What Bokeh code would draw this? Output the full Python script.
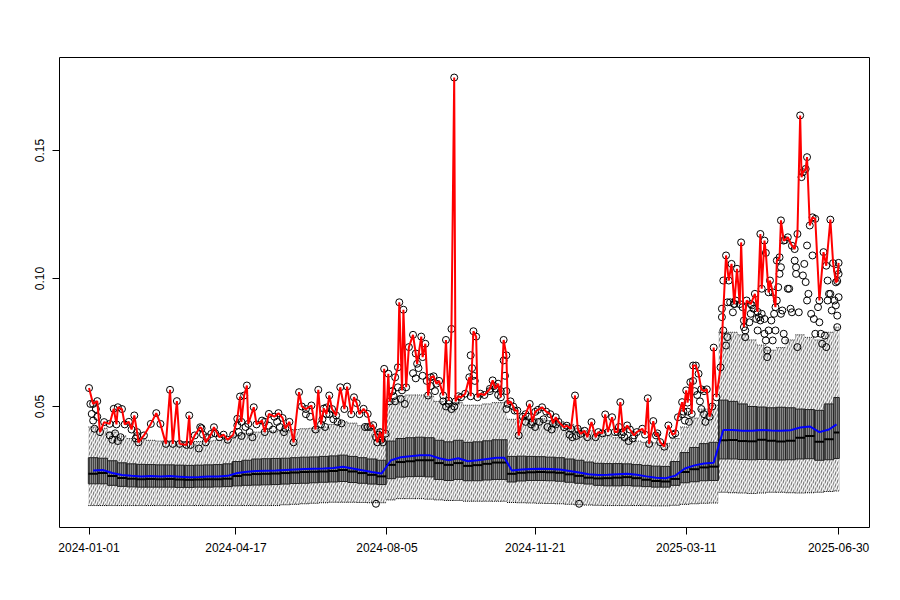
from datetime import date
from bokeh.plotting import figure
from bokeh.models import FixedTicker, ColumnDataSource, Range1d
from bokeh.embed import file_html
from bokeh.resources import INLINE

START = date(2024, 1, 1)
tick_labels = ["2024-01-01", "2024-04-17", "2024-08-05", "2024-11-21", "2025-03-11", "2025-06-30"]
last_day = 546

# segment starts (day offsets from 2024-01-01); each segment summarises ~a week of daily boxes
seg_start = (list(range(0, 211, 7)) + list(range(217, 302, 7))
             + list(range(305, 453, 7)) + list(range(459, 544, 7)))

whisk_lo = [0.0113, 0.0113, 0.0113, 0.0113, 0.0113, 0.0113, 0.0113, 0.0113, 0.0113, 0.0113,
            0.0113, 0.0113, 0.0113, 0.0113, 0.0113, 0.0113, 0.0113, 0.0113, 0.0113, 0.0113,
            0.0116, 0.0118, 0.0120, 0.0122, 0.0124, 0.0126, 0.0126, 0.0126, 0.0125, 0.0124, 0.0124,
            0.0135, 0.0140, 0.0140, 0.0140, 0.0138, 0.0135, 0.0133, 0.0133, 0.0130, 0.0130, 0.0130, 0.0130, 0.0130,
            0.0125, 0.0124, 0.0123, 0.0122, 0.0121, 0.0120, 0.0118, 0.0116, 0.0115, 0.0114, 0.0113,
            0.0113, 0.0113, 0.0113, 0.0113, 0.0112, 0.0112, 0.0114, 0.0118, 0.0120, 0.0122, 0.0123,
            0.0165, 0.0163, 0.0162, 0.0160, 0.0162, 0.0165, 0.0165, 0.0163, 0.0162, 0.0163, 0.0165, 0.0168, 0.0170]
q1 = [0.0198, 0.0198, 0.0192, 0.0188, 0.0186, 0.0185, 0.0185, 0.0185, 0.0185, 0.0184, 0.0184,
      0.0185, 0.0185, 0.0186, 0.0187, 0.0190, 0.0192, 0.0193, 0.0194, 0.0195, 0.0197, 0.0199,
      0.0200, 0.0202, 0.0204, 0.0205, 0.0207, 0.0203, 0.0200, 0.0197, 0.0195,
      0.0218, 0.0224, 0.0226, 0.0227, 0.0225, 0.0215, 0.0211, 0.0215, 0.0210, 0.0210, 0.0213, 0.0215, 0.0215,
      0.0205, 0.0209, 0.0211, 0.0211, 0.0210, 0.0208, 0.0204, 0.0200, 0.0197, 0.0192, 0.0190,
      0.0190, 0.0191, 0.0189, 0.0187, 0.0185, 0.0185, 0.0192, 0.0202, 0.0206, 0.0210, 0.0211,
      0.0295, 0.0295, 0.0293, 0.0292, 0.0293, 0.0292, 0.0291, 0.0292, 0.0295, 0.0296, 0.0290, 0.0292, 0.0297]
median = [0.0237, 0.0240, 0.0228, 0.0221, 0.0218, 0.0216, 0.0217, 0.0216, 0.0217, 0.0215, 0.0214,
          0.0215, 0.0216, 0.0216, 0.0218, 0.0228, 0.0233, 0.0236, 0.0237, 0.0238, 0.0240, 0.0242,
          0.0244, 0.0245, 0.0246, 0.0248, 0.0252, 0.0246, 0.0240, 0.0233, 0.0227,
          0.0272, 0.0283, 0.0286, 0.0290, 0.0290, 0.0279, 0.0272, 0.0279, 0.0268, 0.0271, 0.0276, 0.0281, 0.0281,
          0.0237, 0.0241, 0.0243, 0.0244, 0.0243, 0.0241, 0.0235, 0.0229, 0.0222, 0.0219, 0.0220,
          0.0222, 0.0224, 0.0220, 0.0214, 0.0209, 0.0207, 0.0217, 0.0244, 0.0255, 0.0262, 0.0265,
          0.0368, 0.0369, 0.0365, 0.0364, 0.0370, 0.0366, 0.0363, 0.0366, 0.0378, 0.0385, 0.0362, 0.0372, 0.0398]
q3 = [0.0300, 0.0298, 0.0288, 0.0280, 0.0276, 0.0274, 0.0273, 0.0272, 0.0272, 0.0271, 0.0270,
      0.0271, 0.0272, 0.0273, 0.0276, 0.0285, 0.0290, 0.0295, 0.0296, 0.0297, 0.0298, 0.0300,
      0.0302, 0.0303, 0.0305, 0.0307, 0.0310, 0.0305, 0.0300, 0.0295, 0.0290,
      0.0365, 0.0375, 0.0378, 0.0380, 0.0378, 0.0368, 0.0362, 0.0368, 0.0360, 0.0362, 0.0366, 0.0370, 0.0370,
      0.0305, 0.0306, 0.0305, 0.0304, 0.0302, 0.0300, 0.0295, 0.0290, 0.0283, 0.0278, 0.0277,
      0.0277, 0.0276, 0.0273, 0.0270, 0.0267, 0.0266, 0.0285, 0.0320, 0.0340, 0.0355, 0.0360,
      0.0525, 0.0520, 0.0510, 0.0500, 0.0498, 0.0495, 0.0497, 0.0495, 0.0490, 0.0488, 0.0485, 0.0510, 0.0535]
whisk_hi = [0.0420, 0.0415, 0.0400, 0.0385, 0.0375, 0.0370, 0.0368, 0.0365, 0.0365, 0.0363, 0.0362,
            0.0363, 0.0365, 0.0368, 0.0372, 0.0385, 0.0395, 0.0400, 0.0402, 0.0404, 0.0406, 0.0410,
            0.0413, 0.0415, 0.0420, 0.0430, 0.0440, 0.0435, 0.0425, 0.0415, 0.0410,
            0.0520, 0.0540, 0.0545, 0.0545, 0.0540, 0.0520, 0.0510, 0.0515, 0.0505, 0.0505, 0.0510, 0.0515, 0.0515,
            0.0450, 0.0455, 0.0455, 0.0452, 0.0445, 0.0440, 0.0430, 0.0415, 0.0405, 0.0395, 0.0385,
            0.0378, 0.0372, 0.0365, 0.0360, 0.0358, 0.0356, 0.0375, 0.0420, 0.0455, 0.0490, 0.0505,
            0.0790, 0.0790, 0.0780, 0.0760, 0.0740, 0.0720, 0.0730, 0.0760, 0.0780, 0.0770, 0.0760, 0.0790, 0.0810]
mean = [0.0250, 0.0252, 0.0240, 0.0232, 0.0229, 0.0227, 0.0228, 0.0227, 0.0228, 0.0226, 0.0224,
        0.0225, 0.0227, 0.0227, 0.0229, 0.0240, 0.0245, 0.0248, 0.0249, 0.0250, 0.0252, 0.0254,
        0.0256, 0.0257, 0.0258, 0.0260, 0.0265, 0.0258, 0.0251, 0.0244, 0.0238,
        0.0290, 0.0302, 0.0306, 0.0310, 0.0310, 0.0298, 0.0290, 0.0298, 0.0286, 0.0290, 0.0295, 0.0300, 0.0300,
        0.0250, 0.0254, 0.0256, 0.0257, 0.0256, 0.0254, 0.0248, 0.0242, 0.0235, 0.0232, 0.0233,
        0.0235, 0.0237, 0.0233, 0.0227, 0.0222, 0.0220, 0.0230, 0.0258, 0.0270, 0.0277, 0.0280,
        0.0408, 0.0408, 0.0405, 0.0405, 0.0408, 0.0406, 0.0405, 0.0407, 0.0418, 0.0422, 0.0400, 0.0410, 0.0430]

# daily maximum (red line), read at its turning points
max_day = [0, 3, 6, 8, 11, 15, 18, 20, 21, 24, 26, 29, 31, 33, 35, 36, 40, 45, 49, 52, 56, 59, 61, 64, 66,
           71, 73, 74, 77, 81, 82, 85, 89, 91, 95, 98, 101, 105, 108, 110, 111, 113, 115, 116, 120, 122,
           126, 128, 131, 135, 138, 141, 143, 146, 149, 153, 155, 158, 162, 165, 167, 169, 171, 173, 175,
           177, 180, 183, 186, 188, 191, 193, 195, 197, 200, 203, 205, 207, 210, 212, 214, 215, 216, 218,
           219, 221, 223, 225, 226, 228, 229, 231, 233, 236, 238, 239, 242, 243, 245, 247, 249, 251, 253,
           255, 258, 260, 262, 264, 266, 267, 269, 271, 274, 277, 278, 280, 282, 283, 285, 288, 292, 294,
           296, 298, 300, 302, 304, 305, 307, 309, 310, 312, 313, 316, 318, 321, 323, 325, 327, 330, 333,
           336, 338, 340, 342, 346, 348, 351, 354, 356, 358, 361, 363, 366, 369, 371, 374, 376, 378, 381,
           383, 385, 387, 389, 392, 394, 397, 399, 403, 405, 407, 408, 411, 413, 414, 416, 419, 422, 425,
           427, 429, 432, 433, 435, 436, 438, 439, 440, 442, 444, 446, 448, 450, 452, 454, 455, 457, 460,
           464, 466, 468, 470, 472, 474, 475, 477, 479, 482, 485, 487, 489, 490, 492, 493, 495, 496, 498,
           500, 501, 503, 504, 506, 507, 509, 512, 514, 516, 518, 519, 520, 522, 523, 525, 527, 529, 532,
           535, 537, 540, 542, 544, 545, 546]
max_val = [0.0572, 0.0510, 0.0521, 0.0400, 0.0439, 0.0432, 0.0491, 0.0430, 0.0497, 0.0490, 0.0430,
           0.0440, 0.0410, 0.0465, 0.0400, 0.0360, 0.0387, 0.0432, 0.0474, 0.0432, 0.0354, 0.0565,
           0.0354, 0.0521, 0.0354, 0.0350, 0.0465, 0.0350, 0.0387, 0.0419, 0.0415, 0.0360, 0.0393,
           0.0419, 0.0380, 0.0390, 0.0370, 0.0390, 0.0452, 0.0539, 0.0440, 0.0543, 0.0582, 0.0432,
           0.0497, 0.0430, 0.0445, 0.0400, 0.0471, 0.0460, 0.0474, 0.0455, 0.0414, 0.0440, 0.0360,
           0.0556, 0.0500, 0.0490, 0.0504, 0.0410, 0.0565, 0.0430, 0.0492, 0.0470, 0.0543, 0.0490,
           0.0465, 0.0575, 0.0490, 0.0578, 0.0470, 0.0536, 0.0513, 0.0470, 0.0491, 0.0471, 0.0420,
           0.0427, 0.0360, 0.0400, 0.0360, 0.0647, 0.0394, 0.0628, 0.0520, 0.0560, 0.0614, 0.0653,
           0.0907, 0.0563, 0.0878, 0.0575, 0.0732, 0.0780, 0.0707, 0.0667, 0.0773, 0.0693, 0.0745,
           0.0543, 0.0614, 0.0618, 0.0589, 0.0600, 0.0543, 0.0760, 0.0523, 0.0803, 0.1785, 0.0520,
           0.0540, 0.0536, 0.0550, 0.0614, 0.0540, 0.0794, 0.0773, 0.0536, 0.0550, 0.0545, 0.0569,
           0.0602, 0.0570, 0.0589, 0.0536, 0.0760, 0.0700, 0.0510, 0.0520, 0.0500, 0.0484, 0.0484,
           0.0387, 0.0460, 0.0470, 0.0510, 0.0439, 0.0479, 0.0487, 0.0497, 0.0480, 0.0470, 0.0434,
           0.0458, 0.0440, 0.0419, 0.0425, 0.0413, 0.0543, 0.0413, 0.0393, 0.0405, 0.0380, 0.0439,
           0.0380, 0.0400, 0.0395, 0.0469, 0.0400, 0.0458, 0.0400, 0.0400, 0.0517, 0.0400, 0.0426,
           0.0410, 0.0387, 0.0400, 0.0413, 0.0390, 0.0532, 0.0354, 0.0443, 0.0387, 0.0395, 0.0361,
           0.0343, 0.0426, 0.0390, 0.0395, 0.0458, 0.0517, 0.0480, 0.0563, 0.0515, 0.0595, 0.0471,
           0.0660, 0.0660, 0.0628, 0.0567, 0.0560, 0.0567, 0.0460, 0.0500, 0.0730, 0.0536, 0.0653,
           0.1090, 0.0992, 0.1057, 0.0900, 0.1038, 0.0900, 0.1141, 0.0810, 0.0914, 0.0900, 0.0940,
           0.0870, 0.1174, 0.0960, 0.1148, 0.1100, 0.0946, 0.0992, 0.0946, 0.0888, 0.1070, 0.1083,
           0.1227, 0.1148, 0.1150, 0.1161, 0.1128, 0.1115, 0.1174, 0.1637, 0.1396, 0.1415, 0.1428,
           0.1474, 0.1207, 0.1239, 0.1233, 0.0914, 0.1103, 0.1050, 0.1230, 0.1060, 0.0985, 0.0990, 0.1061]

# other outliers (black circles)
out_day = [1, 2, 3, 4, 5, 6, 15, 17, 19, 21, 23, 34, 35, 80, 83, 86, 92, 108, 109, 111, 114, 117, 119,
           128, 131, 134, 137, 139, 142, 158, 161, 170, 172, 173, 175, 178, 181, 184, 201, 203, 209, 209,
           211, 213, 221, 222, 223, 225, 227, 230, 236, 238, 240, 243, 246, 249, 252, 258, 260, 262, 264,
           266, 278, 279, 280, 281, 292, 295, 298, 300, 302, 303, 304, 304, 318, 320, 322, 325, 328, 331,
           334, 337, 340, 350, 352, 355, 357, 386, 388, 390, 393, 396, 432, 434, 436, 437, 440, 441, 443,
           445, 446, 448, 449,
           461, 461, 462, 464, 465, 462, 465, 467, 469, 470, 471, 476, 477, 478, 478, 481, 482, 483, 484,
           486, 487, 488, 489, 490, 492, 492, 493, 494, 494, 495, 497, 498, 499, 500, 501, 502, 503, 504,
           504, 505, 506, 507, 509, 510, 511, 512, 514, 515, 515, 516, 517, 520, 521, 522, 523, 523, 524,
           526, 527, 528, 529, 531, 532, 533, 534, 536, 537, 538, 538, 539, 540, 541, 543, 544, 545, 545,
           546, 545, 546]
out_val = [0.0510, 0.0471, 0.0445, 0.0413, 0.0490, 0.0460, 0.0387, 0.0370, 0.0395, 0.0365, 0.0380,
           0.0375, 0.0385, 0.0336, 0.0390, 0.0380, 0.0395, 0.0426, 0.0400, 0.0385, 0.0420, 0.0400,
           0.0380, 0.0440, 0.0425, 0.0410, 0.0440, 0.0420, 0.0400, 0.0470, 0.0460, 0.0450, 0.0420,
           0.0496, 0.0470, 0.0450, 0.0440, 0.0434, 0.0420, 0.0420, 0.0120, 0.0380, 0.0390, 0.0370,
           0.0560, 0.0540, 0.0520, 0.0575, 0.0530, 0.0510, 0.0630, 0.0610, 0.0650, 0.0620, 0.0600,
           0.0580, 0.0560, 0.0520, 0.0500, 0.0510, 0.0490, 0.0500, 0.0700, 0.0650, 0.0620, 0.0600,
           0.0560, 0.0580, 0.0545, 0.0560, 0.0680, 0.0620, 0.0560, 0.0490, 0.0440, 0.0460, 0.0430,
           0.0420, 0.0440, 0.0450, 0.0420, 0.0410, 0.0430, 0.0390, 0.0380, 0.0385, 0.0120, 0.0420,
           0.0390, 0.0380, 0.0365, 0.0375, 0.0470, 0.0445, 0.0480, 0.0440, 0.0600, 0.0560, 0.0545,
           0.0520, 0.0490, 0.0470, 0.0440,
           0.0882, 0.0849, 0.0797, 0.0738, 0.0771, 0.0992, 0.0907, 0.0907, 0.0868, 0.0901, 0.0914,
           0.0888, 0.0836, 0.0797, 0.0771, 0.0829, 0.0862, 0.0895, 0.0882, 0.0842, 0.0797, 0.0849,
           0.0836, 0.0862, 0.0842, 0.0784, 0.0758, 0.0719, 0.0693, 0.0797, 0.0836, 0.0758, 0.0862,
           0.0797, 0.0914, 0.0966, 0.1018, 0.1044, 0.0862, 0.0875, 0.0784, 0.0758, 0.0960, 0.0960,
           0.0882, 0.0868, 0.1070, 0.1018, 0.1044, 0.0732, 0.0868, 0.1012, 0.1057, 0.0986, 0.1129,
           0.0914, 0.0940, 0.0862, 0.1090, 0.0842, 0.0784, 0.0888, 0.0829, 0.0784, 0.0745, 0.0777,
           0.0732, 0.0992, 0.0914, 0.0940, 0.0940, 0.0875, 0.0914, 0.0895, 0.0855, 0.0810, 0.0927,
           0.1031, 0.1018]

n = len(seg_start)
assert all(len(a) == n for a in (whisk_lo, q1, median, q3, whisk_hi, mean))
assert len(max_day) == len(max_val) and len(out_day) == len(out_val)

left = [s - 0.5 for s in seg_start]
right = [s - 0.5 for s in seg_start[1:]] + [last_day + 0.5]
center = [(a + b) / 2 for a, b in zip(left, right)]

src = ColumnDataSource(dict(left=left, right=right, center=center, lo=whisk_lo, q1=q1,
                            med=median, q3=q3, hi=whisk_hi, mean=mean))

tick_days = [(date.fromisoformat(t) - START).days for t in tick_labels]

p = figure(width=900, height=600, output_backend="svg", toolbar_location=None,
           x_range=Range1d(-21.5, 568.5), y_range=Range1d(0.00273, 0.18633),
           min_border_left=59, min_border_right=31, min_border_top=57, min_border_bottom=73)
p.background_fill_color = "white"
p.border_fill_color = "white"
p.outline_line_color = "black"
p.outline_line_width = 1
p.grid.visible = False

# whisker regions: grey vertical lines broken by diagonal gaps (dashed whiskers)
for lo_col, hi_col in (("lo", "q1"), ("q3", "hi")):
    p.quad(left="left", right="right", bottom=lo_col, top=hi_col, source=src,
           fill_color="#c2c2c2", fill_alpha=1, line_alpha=0, hatch_pattern="vertical_line",
           hatch_color="#3a3a3a", hatch_scale=2, hatch_weight=1)
    p.quad(left="left", right="right", bottom=lo_col, top=hi_col, source=src, fill_alpha=0,
           line_alpha=0, hatch_pattern="right_diagonal_line", hatch_color="white", hatch_scale=6,
           hatch_weight=1.2)
# staples
p.segment(x0="left", x1="right", y0="lo", y1="lo", source=src, line_color="black",
          line_width=1, line_dash="1 1")
p.segment(x0="left", x1="right", y0="hi", y1="hi", source=src, line_color="#333333",
          line_width=1, line_dash="1 1")
# boxes
p.quad(left="left", right="right", bottom="q1", top="q3", source=src, fill_color="#888888",
       line_color="#222222", line_width=1, hatch_pattern="vertical_line", hatch_color="black",
       hatch_scale=2, hatch_weight=1)
# medians
p.segment(x0="left", x1="right", y0="med", y1="med", source=src, line_color="black", line_width=2)

# outliers
p.scatter(out_day, out_val, marker="circle", size=7, fill_alpha=0, line_color="black", line_width=1)
p.scatter(max_day, max_val, marker="circle", size=7, fill_alpha=0, line_color="black", line_width=1)

# max line and mean line
p.line(max_day, max_val, line_color="red", line_width=2)
p.line("center", "mean", source=src, line_color="blue", line_width=2)

# axes
for ax in (p.xaxis[0], p.yaxis[0]):
    ax.axis_line_color = None
    ax.major_tick_out = 7
    ax.major_tick_in = 0
    ax.minor_tick_line_color = None
    ax.major_tick_line_color = "black"
    ax.major_label_text_font = "Liberation Sans"
    ax.major_label_text_font_size = "12px"
    ax.major_label_text_color = "black"

p.xaxis.ticker = FixedTicker(ticks=tick_days)
p.xaxis.major_label_overrides = {d: t for d, t in zip(tick_days, tick_labels)}
p.xaxis.major_label_standoff = 8

y_ticks = [0.05, 0.10, 0.15]
p.yaxis.ticker = FixedTicker(ticks=y_ticks)
p.yaxis.major_label_overrides = {v: f"{v:.2f}" for v in y_ticks}
p.yaxis.major_label_orientation = "vertical"
p.yaxis.major_label_standoff = 8

open("out.html", "w").write(file_html(p, INLINE))
